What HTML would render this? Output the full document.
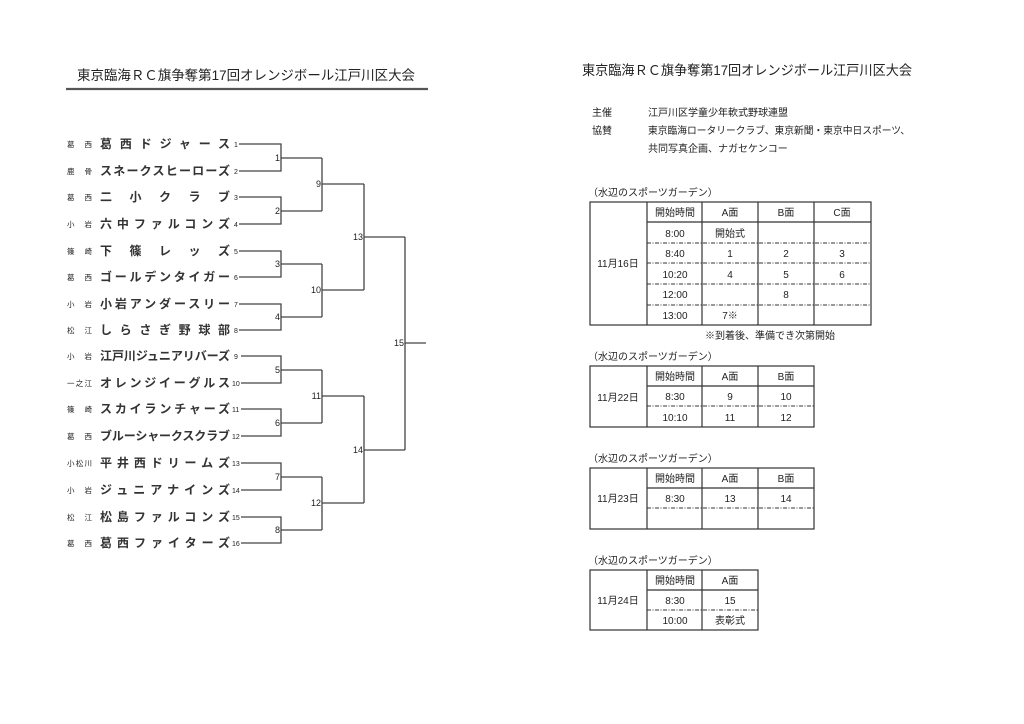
<!DOCTYPE html>
<html><head><meta charset="utf-8"><style>
html,body{margin:0;padding:0;background:#fff}
svg{display:block}
text{font-family:"Liberation Sans","Noto Sans CJK JP",sans-serif;fill:#222}
.p{font-size:7.5px}
.n{font-size:12px;font-weight:bold;fill:#333}
.s{font-size:7px}
.r{font-size:9px}
.t{font-size:10px}
.ln{stroke:#444;stroke-width:1.3;fill:none}
.tb{stroke:#333;stroke-width:1.2;fill:none}
.ds{stroke:#333;stroke-width:1;stroke-dasharray:4 1.5 1 1.5;fill:none}
</style></head><body>
<svg width="1024" height="724" viewBox="0 0 1024 724" xmlns="http://www.w3.org/2000/svg">
<text x="77" y="80" font-size="13.5" textLength="338" lengthAdjust="spacingAndGlyphs">東京臨海ＲＣ旗争奪第17回オレンジボール江戸川区大会</text>
<line x1="66" y1="89" x2="428" y2="89" stroke="#555" stroke-width="2.2"/>

<g id="teams">
<text class="p" x="67" y="147" textLength="25" lengthAdjust="spacing">葛西</text><text class="n" x="100" y="148" textLength="130" lengthAdjust="spacing">葛西ドジャース</text><text class="s" x="234" y="147">1</text>
<text class="p" x="67" y="174" textLength="25" lengthAdjust="spacing">鹿骨</text><text class="n" x="100" y="175" textLength="130" lengthAdjust="spacing">スネークスヒーローズ</text><text class="s" x="234" y="174">2</text>
<text class="p" x="67" y="200" textLength="25" lengthAdjust="spacing">葛西</text><text class="n" x="100" y="201" textLength="130" lengthAdjust="spacing">二小クラブ</text><text class="s" x="234" y="200">3</text>
<text class="p" x="67" y="227" textLength="25" lengthAdjust="spacing">小岩</text><text class="n" x="100" y="228" textLength="130" lengthAdjust="spacing">六中ファルコンズ</text><text class="s" x="234" y="227">4</text>
<text class="p" x="67" y="254" textLength="25" lengthAdjust="spacing">篠崎</text><text class="n" x="100" y="255" textLength="130" lengthAdjust="spacing">下篠レッズ</text><text class="s" x="234" y="254">5</text>
<text class="p" x="67" y="280" textLength="25" lengthAdjust="spacing">葛西</text><text class="n" x="100" y="281" textLength="130" lengthAdjust="spacing">ゴールデンタイガー</text><text class="s" x="234" y="280">6</text>
<text class="p" x="67" y="307" textLength="25" lengthAdjust="spacing">小岩</text><text class="n" x="100" y="308" textLength="130" lengthAdjust="spacing">小岩アンダースリー</text><text class="s" x="234" y="307">7</text>
<text class="p" x="67" y="333" textLength="25" lengthAdjust="spacing">松江</text><text class="n" x="100" y="334" textLength="130" lengthAdjust="spacing">しらさぎ野球部</text><text class="s" x="234" y="333">8</text>
<text class="p" x="67" y="359" textLength="25" lengthAdjust="spacing">小岩</text><text class="n" x="100" y="360" textLength="130" lengthAdjust="spacing">江戸川ジュニアリバーズ</text><text class="s" x="234" y="359">9</text>
<text class="p" x="67" y="386" textLength="25" lengthAdjust="spacing">一之江</text><text class="n" x="100" y="387" textLength="130" lengthAdjust="spacing">オレンジイーグルス</text><text class="s" x="232" y="386">10</text>
<text class="p" x="67" y="412" textLength="25" lengthAdjust="spacing">篠崎</text><text class="n" x="100" y="413" textLength="130" lengthAdjust="spacing">スカイランチャーズ</text><text class="s" x="232" y="412">11</text>
<text class="p" x="67" y="439" textLength="25" lengthAdjust="spacing">葛西</text><text class="n" x="100" y="440" textLength="130" lengthAdjust="spacing">ブルーシャークスクラブ</text><text class="s" x="232" y="439">12</text>
<text class="p" x="67" y="466" textLength="25" lengthAdjust="spacing">小松川</text><text class="n" x="100" y="467" textLength="130" lengthAdjust="spacing">平井西ドリームズ</text><text class="s" x="232" y="466">13</text>
<text class="p" x="67" y="493" textLength="25" lengthAdjust="spacing">小岩</text><text class="n" x="100" y="494" textLength="130" lengthAdjust="spacing">ジュニアナインズ</text><text class="s" x="232" y="493">14</text>
<text class="p" x="67" y="520" textLength="25" lengthAdjust="spacing">松江</text><text class="n" x="100" y="521" textLength="130" lengthAdjust="spacing">松島ファルコンズ</text><text class="s" x="232" y="520">15</text>
<text class="p" x="67" y="546" textLength="25" lengthAdjust="spacing">葛西</text><text class="n" x="100" y="547" textLength="130" lengthAdjust="spacing">葛西ファイターズ</text><text class="s" x="232" y="546">16</text>
</g>

<g class="ln">
<path d="M239 144H281V171H239M281 158H322"/>
<path d="M239 197H281V224H239M281 211H322"/>
<path d="M239 251H281V277H239M281 264H322"/>
<path d="M239 304H281V330H239M281 317H322"/>
<path d="M241 356H281V383H241M281 370H322"/>
<path d="M241 409H281V436H241M281 423H322"/>
<path d="M241 463H281V490H241M281 477H322"/>
<path d="M241 517H281V543H241M281 530H322"/>
<path d="M322 158V211M322 184H364"/>
<path d="M322 264V317M322 290H364"/>
<path d="M322 370V423M322 396H364"/>
<path d="M322 477V530M322 503H364"/>
<path d="M364 184V290M364 237H405"/>
<path d="M364 396V503M364 450H405"/>
<path d="M405 237V450M405 343H426"/>
</g>
<g class="r" text-anchor="end">
<text x="280" y="161">1</text><text x="280" y="214">2</text><text x="280" y="267">3</text><text x="280" y="320">4</text>
<text x="280" y="373">5</text><text x="280" y="426">6</text><text x="280" y="480">7</text><text x="280" y="533">8</text>
<text x="321" y="187">9</text><text x="321" y="293">10</text><text x="321" y="399">11</text><text x="321" y="506">12</text>
<text x="363" y="240">13</text><text x="363" y="453">14</text><text x="404" y="346">15</text>
</g>

<text x="582" y="75" font-size="13.5" textLength="330" lengthAdjust="spacingAndGlyphs">東京臨海ＲＣ旗争奪第17回オレンジボール江戸川区大会</text>
<text class="t" x="592" y="116">主催</text>
<text class="t" x="648" y="116">江戸川区学童少年軟式野球連盟</text>
<text class="t" x="592" y="134">協賛</text>
<text class="t" x="648" y="134" textLength="262" lengthAdjust="spacingAndGlyphs">東京臨海ロータリークラブ、東京新聞・東京中日スポーツ、</text>
<text class="t" x="648" y="152">共同写真企画、ナガセケンコー</text>

<!-- table 1 -->
<text class="t" x="588" y="196">（水辺のスポーツガーデン）</text>
<rect class="tb" x="590" y="202" width="281" height="123"/>
<path class="tb" d="M647 202V325M702 202V325M758 202V325M814 202V325M647 222H871"/>
<path class="ds" d="M647 243H871M647 263H871M647 284H871M647 305H871"/>
<g class="t" text-anchor="middle">
<text x="675" y="216">開始時間</text><text x="730" y="216">A面</text><text x="786" y="216">B面</text><text x="842" y="216">C面</text>
<text x="675" y="237">8:00</text><text x="730" y="237">開始式</text>
<text x="675" y="257">8:40</text><text x="730" y="257">1</text><text x="786" y="257">2</text><text x="842" y="257">3</text>
<text x="675" y="278">10:20</text><text x="730" y="278">4</text><text x="786" y="278">5</text><text x="842" y="278">6</text>
<text x="675" y="298">12:00</text><text x="786" y="298">8</text>
<text x="675" y="319">13:00</text><text x="730" y="319">7※</text>
<text x="618" y="267">11月16日</text>
</g>
<text class="t" x="705" y="339">※到着後、準備でき次第開始</text>

<!-- table 2 -->
<text class="t" x="588" y="360">（水辺のスポーツガーデン）</text>
<rect class="tb" x="590" y="366" width="224" height="61"/>
<path class="tb" d="M647 366V427M702 366V427M758 366V427M647 386H814"/>
<path class="ds" d="M647 406H814"/>
<g class="t" text-anchor="middle">
<text x="675" y="380">開始時間</text><text x="730" y="380">A面</text><text x="786" y="380">B面</text>
<text x="675" y="400">8:30</text><text x="730" y="400">9</text><text x="786" y="400">10</text>
<text x="675" y="421">10:10</text><text x="730" y="421">11</text><text x="786" y="421">12</text>
<text x="618" y="401">11月22日</text>
</g>

<!-- table 3 -->
<text class="t" x="588" y="462">（水辺のスポーツガーデン）</text>
<rect class="tb" x="590" y="468" width="224" height="61"/>
<path class="tb" d="M647 468V529M702 468V529M758 468V529M647 488H814"/>
<path class="ds" d="M647 508H814"/>
<g class="t" text-anchor="middle">
<text x="675" y="482">開始時間</text><text x="730" y="482">A面</text><text x="786" y="482">B面</text>
<text x="675" y="502">8:30</text><text x="730" y="502">13</text><text x="786" y="502">14</text>
<text x="618" y="502">11月23日</text>
</g>

<!-- table 4 -->
<text class="t" x="588" y="564">（水辺のスポーツガーデン）</text>
<rect class="tb" x="590" y="570" width="168" height="60"/>
<path class="tb" d="M647 570V630M702 570V630M647 590H758"/>
<path class="ds" d="M647 610H758"/>
<g class="t" text-anchor="middle">
<text x="675" y="584">開始時間</text><text x="730" y="584">A面</text>
<text x="675" y="604">8:30</text><text x="730" y="604">15</text>
<text x="675" y="624">10:00</text><text x="730" y="624">表彰式</text>
<text x="618" y="604">11月24日</text>
</g>
</svg>
</body></html>
